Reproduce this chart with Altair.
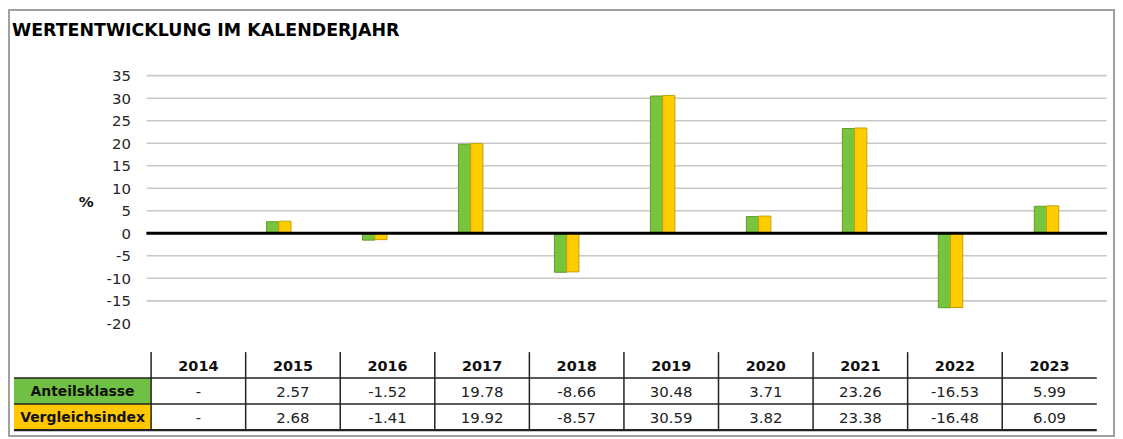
import altair as alt
import pandas as pd

# ---------------- data ----------------
years = ["2014", "2015", "2016", "2017", "2018", "2019", "2020", "2021", "2022", "2023"]
anteilsklasse = [None, 2.57, -1.52, 19.78, -8.66, 30.48, 3.71, 23.26, -16.53, 5.99]
vergleichsindex = [None, 2.68, -1.41, 19.92, -8.57, 30.59, 3.82, 23.38, -16.48, 6.09]
series_names = ["Anteilsklasse", "Vergleichsindex"]
y_tick_values = [35, 30, 25, 20, 15, 10, 5, 0, -5, -10, -15, -20]
grid_values = [35, 30, 25, 20, 15, 10, 5, -5, -10, -15]
title_text = "WERTENTWICKLUNG IM KALENDERJAHR"
unit_label = "%"

# ---------------- styles ----------------
W, H = 1112, 430
GREEN, GREEN_DARK = "#78C43C", "#5E9C2E"
YELLOW, YELLOW_DARK = "#FFCC00", "#C9A000"
CELL_GREEN, CELL_YELLOW = "#6FC044", "#FFC800"
FONT = "DejaVu Sans"

# ---------------- tables built from arrays ----------------
rows = []
for s, vals in zip(series_names, [anteilsklasse, vergleichsindex]):
    for y, v in zip(years, vals):
        if v is not None:
            rows.append({"year": y, "series": s, "value": v})
bar_df = pd.DataFrame(rows)

yscale = alt.Scale(domain=[-20, 35], range=[315.8, 67], nice=False, zero=False)
xscale = alt.Scale(domain=years, range=[127.4, 1091.4], paddingInner=0.745, paddingOuter=0.3725)


def y_axis():
    return alt.Axis(values=y_tick_values, grid=False, domain=False, ticks=False, tickSize=0,
                    labelPadding=0, offset=-123, labelFont=FONT, labelFontSize=15,
                    labelExpr="toString(datum.value)",
                    labelColor="#262626", title=unit_label, titleAngle=0, titleX=-45,
                    titleY=193.7, titleFont=FONT, titleFontSize=15, titleFontWeight="bold",
                    titleAlign="center", titleBaseline="middle", titleColor="#111111")


grid = alt.Chart(pd.DataFrame({"value": grid_values})).mark_rule(
    color="#C8C8C8", strokeWidth=1.6
).encode(
    y=alt.Y("value:Q", scale=yscale, axis=y_axis()),
    x=alt.value(139.3), x2=alt.value(1103.7),
)

bars = alt.Chart(bar_df).mark_bar(strokeWidth=1).encode(
    x=alt.X("year:N", scale=xscale, axis=None),
    xOffset=alt.XOffset("series:N", scale=alt.Scale(domain=series_names, paddingInner=0, paddingOuter=0)),
    y=alt.Y("value:Q", scale=yscale, axis=y_axis()),
    y2=alt.datum(0),
    fill=alt.Fill("series:N", scale=alt.Scale(domain=series_names, range=[GREEN, YELLOW]), legend=None),
    stroke=alt.Stroke("series:N", scale=alt.Scale(domain=series_names, range=[GREEN_DARK, YELLOW_DARK]), legend=None),
)

zero = alt.Chart(pd.DataFrame({"value": [0]})).mark_rule(color="#000000", strokeWidth=3).encode(
    y=alt.Y("value:Q", scale=yscale, axis=y_axis()),
    x=alt.value(139), x2=alt.value(1104),
)

plot_part = alt.layer(grid, bars, zero)

# ---------------- table ----------------
LABEL_W = 1.45
tx = alt.Scale(domain=[-LABEL_W, 10], range=[6, 1093.7], nice=False, zero=False)
ty = alt.Scale(domain=[0, 3], range=[344.7, 423], nice=False, zero=False)

header_df = pd.DataFrame({"year": years, "col": [i + 0.5 for i in range(len(years))], "row": 0.5})
cell_rows = []
for r, (s, vals) in enumerate(zip(series_names, [anteilsklasse, vergleichsindex])):
    for i, v in enumerate(vals):
        cell_rows.append({"txt": "-" if v is None else f"{v:.2f}", "col": i + 0.5, "row": r + 1.5})
cell_df = pd.DataFrame(cell_rows)
label_df = pd.DataFrame({
    "series": series_names,
    "x0": [-LABEL_W] * 2, "x1": [0] * 2,
    "y0": [1, 2], "y1": [2, 3],
    "xc": [-LABEL_W / 2] * 2, "yc": [1.5, 2.5],
})
vline_df = pd.DataFrame({"x": list(range(len(years))), "y0": 0, "y1": 3})
hline_df = pd.DataFrame({"y": [1, 2, 3], "x0": -LABEL_W, "x1": 10, "w": [1.5, 1.5, 2.2]})

label_rects = alt.Chart(label_df).mark_rect().encode(
    x=alt.X("x0:Q", scale=tx, axis=None), x2="x1:Q",
    y=alt.Y("y0:Q", scale=ty, axis=None), y2="y1:Q",
    fill=alt.Fill("series:N", scale=alt.Scale(domain=series_names, range=[CELL_GREEN, CELL_YELLOW]), legend=None),
)
label_texts = alt.Chart(label_df).mark_text(font=FONT, fontSize=14, fontWeight="bold", color="#111111",
                                            baseline="middle", align="center", dy=1).encode(
    x=alt.X("xc:Q", scale=tx, axis=None), y=alt.Y("yc:Q", scale=ty, axis=None), text="series:N",
)
vlines = alt.Chart(vline_df).mark_rule(color="#222222", strokeWidth=1.5).encode(
    x=alt.X("x:Q", scale=tx, axis=None),
    y=alt.Y("y0:Q", scale=ty, axis=None), y2="y1:Q",
)
hlines = alt.Chart(hline_df).mark_rule(color="#222222").encode(
    y=alt.Y("y:Q", scale=ty, axis=None),
    x=alt.X("x0:Q", scale=tx, axis=None), x2="x1:Q",
    strokeWidth=alt.StrokeWidth("w:Q", scale=None, legend=None),
)
header = alt.Chart(header_df).mark_text(font=FONT, fontSize=14.5, fontWeight="bold", color="#111111",
                                        baseline="middle", align="center", dy=2).encode(
    x=alt.X("col:Q", scale=tx, axis=None), y=alt.Y("row:Q", scale=ty, axis=None), text="year:N",
)
cells = alt.Chart(cell_df).mark_text(font=FONT, fontSize=15, color="#222222",
                                     baseline="middle", align="center", dy=1).encode(
    x=alt.X("col:Q", scale=tx, axis=None), y=alt.Y("row:Q", scale=ty, axis=None), text="txt:N",
)
table_part = alt.layer(label_rects, hlines, vlines, header, cells, label_texts)

# ---------------- decorations ----------------
frame = alt.Chart(pd.DataFrame({"f": [0]})).mark_rect(
    fillOpacity=0, stroke="#A0A0A0", strokeWidth=2
).encode(x=alt.value(1), x2=alt.value(W - 1), y=alt.value(1), y2=alt.value(H - 1))

title = alt.Chart(pd.DataFrame({"t": [title_text]})).mark_text(
    font=FONT, fontSize=17.5, fontWeight="bold", color="#000000", align="left", baseline="alphabetic"
).encode(text="t:N", x=alt.value(4), y=alt.value(27))

chart = alt.layer(frame, title, plot_part, table_part).resolve_scale(
    x="independent", y="independent", fill="independent", stroke="independent"
).properties(
    width=W, height=H, padding=0, autosize=alt.AutoSizeParams(type="none"), background="white"
).configure_view(stroke=None)

chart.save("out.html", embed_options={"renderer": "svg", "actions": False})
